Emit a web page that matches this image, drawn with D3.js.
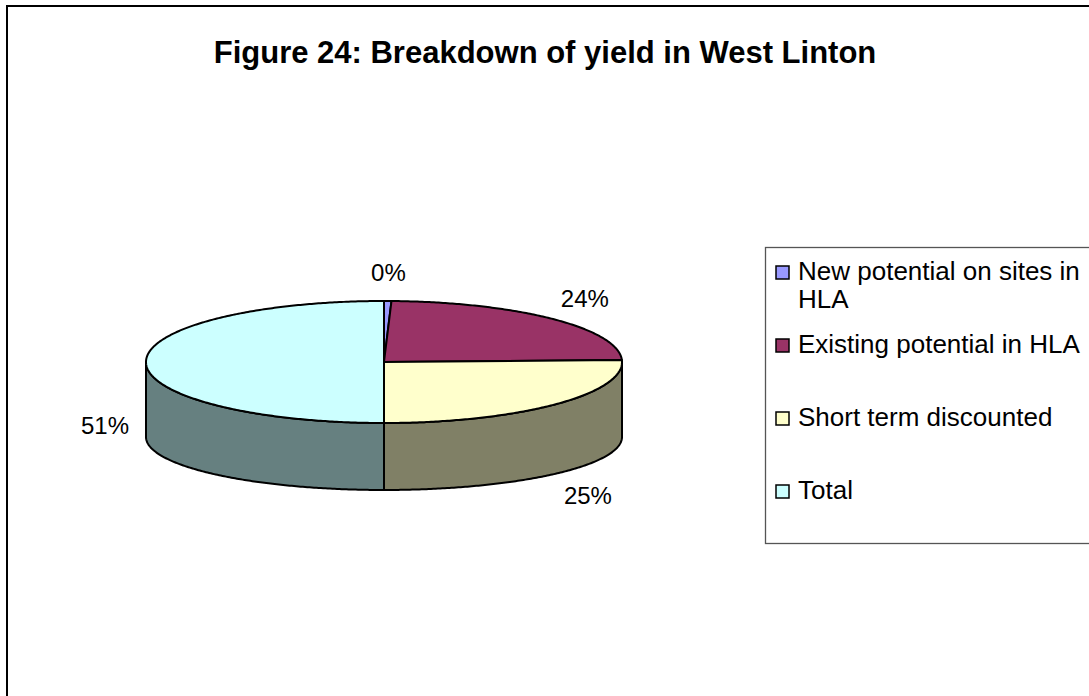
<!DOCTYPE html>
<html>
<head>
<meta charset="utf-8">
<script src="https://cdn.jsdelivr.net/npm/d3@7"></script>
<style>
  body { margin: 0; background: #fff; }
  svg text { font-family: "Liberation Sans", Arial, sans-serif; fill: #000; }
</style>
</head>
<body>
<div id="chart"></div>
<script>
// Figure 24: 3D pie, breakdown of yield in West Linton

const categories = ['New potential on sites in HLA', 'Existing potential in HLA', 'Short term discounted', 'Total'];
const shares = [0.5, 24.0, 25.5, 50.0];
const pctLabels = ['0%', '24%', '25%', '51%'];
const topColors = ['#9999FF', '#993366', '#FFFFCC', '#CCFFFF'];

function init () {

  ////////////////////////////////////////////////////////////////////////////////
  // Setup
  const width = 1089;
  const height = 696;

  const svg = d3.select('#chart').append('svg')
    .attr('width', width)
    .attr('height', height);

  // chart area border (runs off the right and bottom of the picture)
  svg.append('rect')
    .attr('x', 7).attr('y', 6)
    .attr('width', 1100).attr('height', 720)
    .attr('fill', 'none')
    .attr('stroke', '#000')
    .attr('stroke-width', 2);

  svg.append('text')
    .attr('x', 545).attr('y', 63)
    .attr('text-anchor', 'middle')
    .attr('font-size', 31)
    .attr('font-weight', 'bold')
    .text('Figure 24: Breakdown of yield in West Linton');

  ////////////////////////////////////////////////////////////////////////////////
  // Pie geometry: top ellipse and a flatter bottom ellipse (perspective)
  const cx = 384, cy = 362, rx = 238, ry = 61;
  const cyB = 437, ryB = 53;

  const topPt = a => [cx + rx * Math.sin(a), cy - ry * Math.cos(a)];
  const botPt = a => [cx + rx * Math.sin(a), cyB - ryB * Math.cos(a)];

  const sideColor = c => {
    const r = d3.rgb(c);
    return d3.rgb(r.r * 0.5, r.g * 0.5, r.b * 0.5).formatHex();
  };

  const arcs = d3.pie().sort(null).value(d => d)(shares);
  const line = d3.line();

  function sample (a0, a1, fn) {
    const n = Math.max(2, Math.ceil(Math.abs(a1 - a0) / 0.01));
    return d3.range(n + 1).map(i => fn(a0 + (a1 - a0) * i / n));
  }

  const frame = svg.append('g').attr('class', 'pie');

  // side walls of the front half
  const sides = arcs.map((d, i) => {
    const s = Math.max(d.startAngle, Math.PI / 2);
    const e = Math.min(d.endAngle, 3 * Math.PI / 2);
    return { i, s, e };
  }).filter(d => d.e > d.s);

  frame.selectAll('.side')
    .data(sides)
    .enter()
      .append('path')
      .attr('class', 'side')
      .attr('fill', d => sideColor(topColors[d.i]))
      .attr('stroke', '#000')
      .attr('stroke-width', 2)
      .attr('stroke-linejoin', 'round')
      .attr('d', d => line(sample(d.s, d.e, topPt).concat(sample(d.e, d.s, botPt))) + 'Z');

  // top faces
  frame.selectAll('.top')
    .data(arcs)
    .enter()
      .append('path')
      .attr('class', 'top')
      .attr('fill', (d, i) => topColors[i])
      .attr('stroke', '#000')
      .attr('stroke-width', 2)
      .attr('stroke-linejoin', 'round')
      .attr('d', d => line([[cx, cy]].concat(sample(d.startAngle, d.endAngle, topPt))) + 'Z');

  // percentage labels outside the slices
  function labelPos (d) {
    const m = (d.startAngle + d.endAngle) / 2;
    const t = topPt(m);
    const sx = Math.sin(m) > 0 ? 46 : 41;
    if (Math.cos(m) > 0.001) {
      return [t[0] + sx * Math.sin(m), t[1] - 29 * Math.cos(m)];
    }
    const b = botPt(m);
    const y = t[1] + (b[1] - t[1]) * 0.85;
    return [t[0] + sx * Math.sin(m), y - 46 * Math.cos(m)];
  }

  frame.selectAll('.pct')
    .data(arcs)
    .enter()
      .append('text')
      .attr('class', 'pct')
      .attr('x', d => labelPos(d)[0])
      .attr('y', d => labelPos(d)[1])
      .attr('dy', '0.36em')
      .attr('text-anchor', 'middle')
      .attr('font-size', 24)
      .text((d, i) => pctLabels[i]);

  ////////////////////////////////////////////////////////////////////////////////
  // Legend
  const legend = svg.append('g').attr('class', 'legend');
  legend.append('rect')
    .attr('x', 765.5).attr('y', 247.5)
    .attr('width', 400).attr('height', 296)
    .attr('fill', '#fff')
    .attr('stroke', '#555')
    .attr('stroke-width', 1.3);

  const rowY = d3.scalePoint().domain(categories).range([280, 499]);
  const maxTextWidth = 292;

  const items = legend.selectAll('.item')
    .data(categories)
    .enter()
      .append('g')
      .attr('class', 'item')
      .attr('transform', d => `translate(0, ${rowY(d)})`);

  items.append('rect')
    .attr('x', 776).attr('y', -14)
    .attr('width', 13).attr('height', 13)
    .attr('fill', (d, i) => topColors[i])
    .attr('stroke', '#000')
    .attr('stroke-width', 1.5);

  items.append('text')
    .attr('x', 798)
    .attr('font-size', 26)
    .each(function (d) {
      // wrap long entries like Excel does
      const text = d3.select(this);
      const words = d.split(' ');
      let tspan = text.append('tspan').attr('x', 798).attr('dy', 0);
      let current = [];
      words.forEach(w => {
        current.push(w);
        tspan.text(current.join(' '));
        if (tspan.node().getComputedTextLength() > maxTextWidth && current.length > 1) {
          current.pop();
          tspan.text(current.join(' '));
          current = [w];
          tspan = text.append('tspan').attr('x', 798).attr('dy', 28).text(w);
        }
      });
    });
}
init();
</script>
</body>
</html>
